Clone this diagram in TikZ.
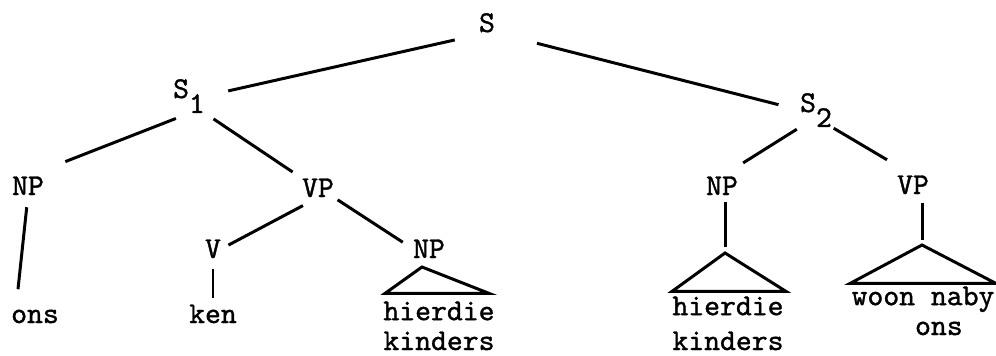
\documentclass[tikz,border=0pt]{standalone}
\usepackage{fontspec}
\setmonofont{lmmono10-regular.otf}[FakeBold=1.2]

% typed subscript: same size, dropped half a line
\newcommand{\lowsub}[1]{\raisebox{-0.3cm}{#1}}

\begin{document}
\begin{tikzpicture}[
  x=0.02cm, y=0.02cm,
  every node/.style={font=\ttfamily\fontsize{17.2}{17}\selectfont, inner sep=0pt, anchor=base},
  cat/.style={},
  word/.style={align=center},
  branch/.style={line width=1.7pt},
]
  \useasboundingbox (0,0) rectangle (996,-355);

  % Top of the tree
  \node[cat] (s) at (487,-32) {S};
  \node[cat] (sone) at (189,-98) {S\lowsub{1}};
  \node[cat] (stwo) at (816,-112) {S\lowsub{2}};

  % First clause
  \node[cat] (npone) at (28,-195) {NP};
  \node[cat] (vpone) at (318,-197) {VP};
  \node[cat] (vone) at (213,-258) {V};
  \node[cat] (nptwo) at (429,-258) {NP};
  \node[word] (ons) at (35,-323) {ons};
  \node[word] (ken) at (213,-323) {ken};
  \node[word] (kinders) at (439,-350) {hierdie\\kinders};

  % Second clause
  \node[cat] (npthree) at (722,-195) {NP};
  \node[cat] (vptwo) at (913,-194) {VP};
  \node[word] (kinderstwo) at (728,-350) {hierdie\\[2.85pt]kinders};
  \node[word, align=left] (naby) at (923,-335) {woon naby\\\phantom{woon}ons};

  % Tops of the triangles
  \coordinate (topa) at (422,-267);
  \coordinate (topb) at (725,-253);
  \coordinate (topc) at (922,-245);

  % Branches under S
  \draw[branch, shorten <=18.8pt, shorten >=13.4pt] (s.south) -- (sone.east);
  \draw[branch, shorten <=24.5pt, shorten >=12.5pt] (s.south east) -- (stwo.west);

  % Branches of the first clause
  \draw[branch, shorten <=8pt, shorten >=22.8pt] (sone.south) -- (npone.north);
  \draw[branch, shorten <=5.7pt, shorten >=6.3pt] (sone.south east) -- (vpone.north west);
  \draw[branch, shorten <=6.8pt, shorten >=11.5pt] (npone.south) -- ([shift={(5,0)}]ons.north west);
  \draw[branch, shorten <=9.7pt, shorten >=4.6pt] (vpone.south) -- (vone.east);
  \draw[branch, shorten <=2.3pt, shorten >=6.8pt] (vpone.south east) -- (nptwo.west);
  \draw[branch, shorten <=5.7pt, shorten >=3.4pt] (vone.south) -- (ken.north);
  \draw[branch] ([shift={(2,8)}]kinders.north west) -- (topa) -- ([shift={(-6,8)}]kinders.north east) -- cycle;

  % Branches of the second clause
  \draw[branch, shorten <=2pt, shorten >=14.2pt] (stwo.south west) -- (npthree.north);
  \draw[branch, shorten <=1pt, shorten >=17.2pt] (stwo.south east) -- (vptwo.north);
  \draw[branch, shorten <=4pt, shorten >=3.4pt] (topb |- npthree.south) -- (topb);
  \draw[branch] ([shift={(0,5)}]kinderstwo.north west) -- (topb) -- ([shift={(2,5)}]kinderstwo.north east) -- cycle;
  \draw[branch, shorten <=4.6pt, shorten >=2.8pt] (topc |- vptwo.south) -- (topc);
  \draw[branch] ([shift={(-1,3)}]naby.north west) -- (topc) -- ([shift={(1,3)}]naby.north east) -- cycle;
\end{tikzpicture}
\end{document}
